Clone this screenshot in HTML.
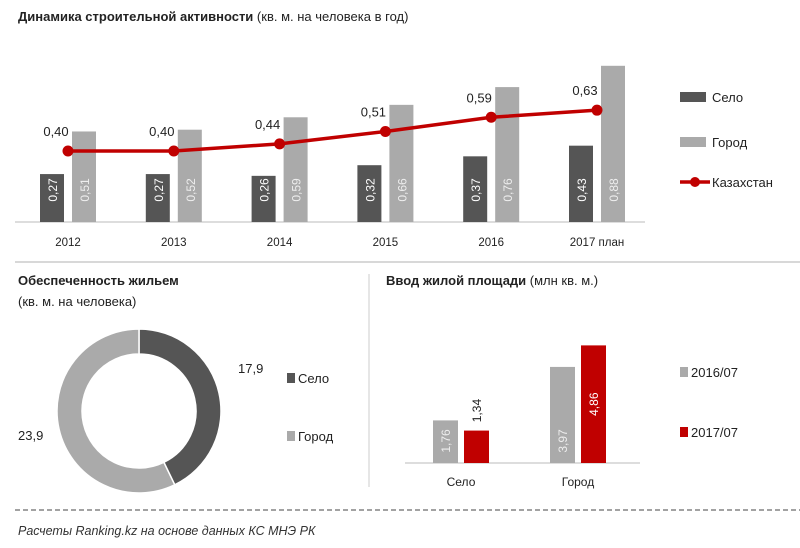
<!DOCTYPE html>
<html><head><meta charset="utf-8"><style>
body{margin:0;background:#fff;}
svg{display:block;font-family:"Liberation Sans",sans-serif;}
</style></head><body>
<svg width="800" height="548" viewBox="0 0 800 548">
<text x="18" y="21" font-size="13" font-weight="bold" fill="#222">Динамика  строительной  активности <tspan font-weight="normal">  (кв. м. на человека  в год)</tspan></text>
<g id="topchart"></g>
<line x1="15" y1="262" x2="800" y2="262" stroke="#ccc" stroke-width="1.5"/>
<text x="18" y="285" font-size="13" font-weight="bold" fill="#222">Обеспеченность  жильем</text>
<text x="18" y="306" font-size="13" fill="#222">(кв. м. на человека)</text>
<g id="donut"></g>
<line x1="369" y1="274" x2="369" y2="487" stroke="#ccc"/>
<text x="386" y="285" font-size="13" font-weight="bold" fill="#222">Ввод жилой площади <tspan font-weight="normal">(млн кв. м.)</tspan></text>
<g id="bars2"></g>
<line x1="15" y1="510" x2="800" y2="510" stroke="#444" stroke-dasharray="5,3"/>
<text x="18" y="535" font-size="12.5" font-style="italic" fill="#333">Расчеты Ranking.kz на основе данных  КС МНЭ РК</text>
</svg>
<script>
const years=["2012","2013","2014","2015","2016","2017 план"];
const selo=[0.27,0.27,0.26,0.32,0.37,0.43];
const gorod=[0.51,0.52,0.59,0.66,0.76,0.88];
const kaz=[0.40,0.40,0.44,0.51,0.59,0.63];
const donutCats=["Село","Город"];
const donutVals=[17.9,23.9];
const inCats=["Село","Город"];
const in2016=[1.76,3.97];
const in2017=[1.34,4.86];
const NS="http://www.w3.org/2000/svg";
function mk(p,t,a,txt){const e=document.createElementNS(NS,t);for(const k in a)e.setAttribute(k,a[k]);if(txt!==undefined)e.textContent=txt;p.appendChild(e);return e;}
const fmt=v=>v.toFixed(2).replace('.',',');
const topG=document.getElementById('topchart');
const base=222,sc=177.5,x0=68,step=105.8;
const yT=v=>base-v*sc;
mk(topG,'line',{x1:15,y1:base,x2:645,y2:base,stroke:'#bbb'});
years.forEach((y,i)=>{
 const cx=x0+step*i;
 let r=mk(topG,'rect',{x:cx-28,y:yT(selo[i]),width:24,height:selo[i]*sc,fill:'#555'});
 
 r=mk(topG,'rect',{x:cx+4,y:yT(gorod[i]),width:24,height:gorod[i]*sc,fill:'#aaa'});
 
 let t=mk(topG,'text',{x:0,y:0,transform:`translate(${cx-11},${base-32}) rotate(-90)`,'font-size':12,fill:'#fff','text-anchor':'middle'},fmt(selo[i]));
 
 t=mk(topG,'text',{x:0,y:0,transform:`translate(${cx+21},${base-32}) rotate(-90)`,'font-size':12,fill:'#eee','text-anchor':'middle'},fmt(gorod[i]));
 
 t=mk(topG,'text',{x:cx,y:base+24,'font-size':11.5,'text-anchor':'middle',fill:'#222'},y);
 
});
const pts=kaz.map((v,i)=>[x0+step*i,yT(v)]);
let pl=mk(topG,'polyline',{points:pts.map(p=>p.join(',')).join(' '),fill:'none',stroke:'#c00000','stroke-width':3.5});

pts.forEach((p,i)=>{
 let c=mk(topG,'circle',{cx:p[0],cy:p[1],r:5.5,fill:'#c00000'});
 
 let t=mk(topG,'text',{x:p[0]-12,y:p[1]-15,'font-size':13,'text-anchor':'middle',fill:'#222'},fmt(kaz[i]));
 
});
let lg=mk(topG,'rect',{x:680,y:92,width:26,height:10,fill:'#555'});
mk(topG,'text',{x:712,y:102,'font-size':13,fill:'#222'},'Село');
lg=mk(topG,'rect',{x:680,y:137,width:26,height:10,fill:'#aaa'});
mk(topG,'text',{x:712,y:147,'font-size':13,fill:'#222'},'Город');
lg=mk(topG,'line',{x1:680,y1:182,x2:710,y2:182,stroke:'#c00000','stroke-width':3.5});
mk(topG,'circle',{cx:695,cy:182,r:5,fill:'#c00000'});
mk(topG,'text',{x:712,y:187,'font-size':13,fill:'#222'},'Казахстан');
const dG=document.getElementById('donut');
const dcx=139,dcy=411,R=82,r0=57;
const tot=donutVals.reduce((a,b)=>a+b,0);
const cols=['#555','#aaa'];
let ang=0;
donutVals.forEach((v,i)=>{
 const a0=ang,a1=ang+v/tot*2*Math.PI;ang=a1;
 const P=(a,rr)=>[dcx+rr*Math.sin(a),dcy-rr*Math.cos(a)];
 const lf=(a1-a0)>Math.PI?1:0;
 const [x1,y1]=P(a0,R),[x2,y2]=P(a1,R),[x3,y3]=P(a1,r0),[x4,y4]=P(a0,r0);
 let s=mk(dG,'path',{d:`M${x1},${y1}A${R},${R} 0 ${lf} 1 ${x2},${y2}L${x3},${y3}A${r0},${r0} 0 ${lf} 0 ${x4},${y4}Z`,fill:cols[i],stroke:'#fff','stroke-width':1.5});
 
});
let tt=mk(dG,'text',{x:238,y:373,'font-size':13,fill:'#222'},donutVals[0].toFixed(1).replace('.',','));

tt=mk(dG,'text',{x:18,y:440,'font-size':13,fill:'#222'},donutVals[1].toFixed(1).replace('.',','));

donutCats.forEach((c,i)=>{
 const yy=i?436:378;
 let r=mk(dG,'rect',{x:287,y:yy-5,width:8,height:10,fill:cols[i]});
 
 mk(dG,'text',{x:298,y:yy+5,'font-size':13,fill:'#222'},c);
});
const bG=document.getElementById('bars2');
const b2=463,s2=24.2;
mk(bG,'line',{x1:405,y1:b2,x2:640,y2:b2,stroke:'#bbb'});
const gx=[461,578];
inCats.forEach((c,i)=>{
 const cx=gx[i];
 let r=mk(bG,'rect',{x:cx-28,y:b2-in2016[i]*s2,width:25,height:in2016[i]*s2,fill:'#aaa'});
 
 r=mk(bG,'rect',{x:cx+3,y:b2-in2017[i]*s2,width:25,height:in2017[i]*s2,fill:'#c00000'});
 
 let t=mk(bG,'text',{transform:`translate(${cx-11},${b2-22}) rotate(-90)`,'font-size':12,fill:'#eee','text-anchor':'middle'},fmt(in2016[i]));
 
 const h=in2017[i]*s2, inside=h>50;
 t=mk(bG,'text',{transform:inside?`translate(${cx+20},${b2-h/2}) rotate(-90)`:`translate(${cx+20},${b2-h-20}) rotate(-90)`,'font-size':12,fill:inside?'#fff':'#222','text-anchor':'middle'},fmt(in2017[i]));
 
 t=mk(bG,'text',{x:cx,y:486,'font-size':12,'text-anchor':'middle',fill:'#222'},c);
 
});
[['2016/07','#aaa',372],['2017/07','#c00000',432]].forEach((l,i)=>{
 let r=mk(bG,'rect',{x:680,y:l[2]-5,width:8,height:10,fill:l[1]});
 
 mk(bG,'text',{x:691,y:l[2]+5,'font-size':13,fill:'#222'},l[0]);
});
</script>
</body></html>
